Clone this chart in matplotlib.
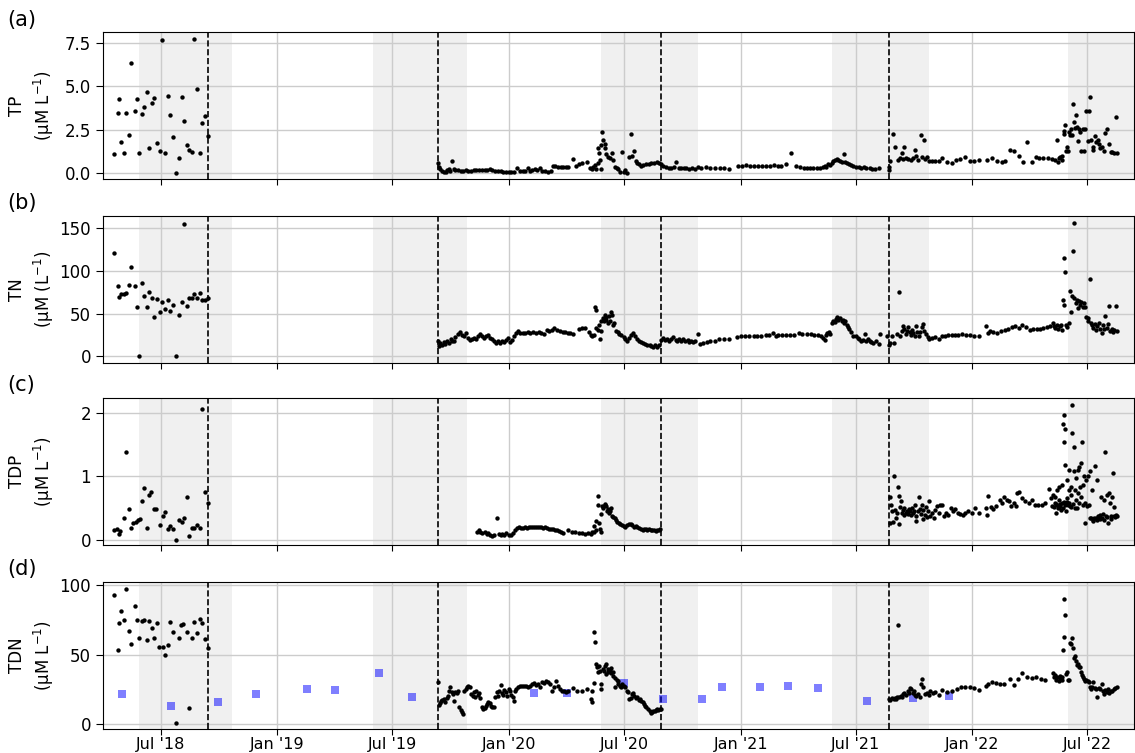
import pandas as pd
import matplotlib
matplotlib.use("Agg")
import matplotlib.pyplot as plt
import matplotlib.dates as mdates

start = pd.Timestamp("2018-01-01")

#****************************************************
# samples: (day since 1 Jan 2018, concentration)
#****************************************************
tp_pts = [
 (108,1.10),(113,3.48),(115,4.27),(119,1.78),(123,1.12),(127,3.44),(131,2.19),(135,6.34),(140,3.60),(143,4.24),
 (147,1.16),(152,3.40),(155,3.83),(159,4.66),(163,1.43),(167,4.02),(171,4.31),(175,1.70),(180,1.28),(183,7.68),
 (188,1.12),(193,4.45),(196,3.33),(200,2.09),(206,0.0),(210,0.87),(214,4.41),(218,2.98),(222,1.61),(226,1.30),
 (230,1.18),(234,7.76),(238,4.86),(243,1.12),(247,2.88),(251,3.29),(255,2.15),
 (619,0.58),(620,0.35),(622,0.21),(624,0.12),(628,0.04),(631,0.06),(633,0.14),(635,0.21),(638,0.10),(641,0.68),
 (643,0.21),(646,0.14),(650,0.17),(654,0.12),(658,0.12),(662,0.14),(666,0.12),(671,0.10),(675,0.14),(679,0.17),
 (683,0.15),(688,0.14),(692,0.17),(696,0.15),(700,0.19),(704,0.14),(709,0.10),(713,0.12),(717,0.08),(721,0.06),
 (725,0.04),(730,0.04),(734,0.04),(738,0.06),(743,0.27),(747,0.10),(752,0.12),(755,0.08),(760,0.25),(763,0.12),
 (767,0.15),(772,0.19),(775,0.14),(779,0.29),(783,0.10),(787,0.08),(792,0.06),(796,0.10),(799,0.39),(803,0.37),
 (807,0.35),(812,0.33),(816,0.33),(820,0.31),(824,0.35),(832,0.77),(836,0.37),(840,0.48),(845,0.56),(853,0.60),
 (858,0.29),(861,0.21),(863,0.33),(866,0.44),(867,0.19),(870,0.54),(871,1.41),(872,1.14),(874,0.73),(875,0.21),
 (876,1.61),(877,2.38),(879,1.90),(881,1.64),(882,1.41),(884,1.08),(886,0.93),(889,0.83),(893,1.16),(895,0.73),
 (897,0.35),(900,0.25),(903,0.19),(905,0.06),(908,1.22),(911,0.06),(913,0.14),(916,0.0),(919,0.89),(922,2.24),
 (925,0.97),(928,1.28),(931,0.68),(933,0.54),(936,0.48),(939,0.41),(942,0.44),(946,0.48),(951,0.50),(955,0.56),
 (959,0.58),(963,0.60),(967,0.54),(970,0.48),
 (974,0.37),(978,0.31),(982,0.29),(986,0.29),(990,0.31),(994,0.60),(998,0.29),(1002,0.27),(1006,0.25),(1010,0.25),
 (1015,0.23),(1019,0.25),(1023,0.23),(1028,0.35),(1033,0.27),(1041,0.33),(1048,0.25),(1056,0.25),(1063,0.25),
 (1070,0.25),(1077,0.21),(1092,0.37),(1098,0.41),(1104,0.43),(1110,0.41),(1117,0.37),(1123,0.37),(1129,0.39),
 (1136,0.41),(1142,0.37),(1148,0.44),(1155,0.41),(1160,0.41),(1167,0.48),(1175,1.16),(1183,0.41),(1189,0.33),
 (1195,0.29),(1200,0.27),(1205,0.25),(1210,0.25),(1216,0.27),(1221,0.29),(1225,0.33),(1228,0.41),(1231,0.35),
 (1234,0.48),(1237,0.44),(1239,0.56),(1242,0.68),(1245,0.75),(1247,0.77),(1250,0.73),(1252,0.68),(1255,0.64),
 (1258,1.08),(1260,0.64),(1263,0.58),(1266,0.48),(1269,0.44),(1273,0.39),(1278,0.35),(1282,0.33),(1286,0.29),
 (1290,0.33),(1294,0.29),(1299,0.29),(1303,0.23),(1308,0.21),(1314,0.25),(1329,0.31),(1330,0.17),
 (1332,0.70),(1336,2.22),(1339,1.49),(1344,0.75),(1347,0.87),(1350,1.12),(1352,0.79),(1353,1.47),(1357,0.87),
 (1360,0.77),(1364,0.73),(1367,0.83),(1371,1.32),(1373,0.97),(1376,0.73),(1380,2.19),(1382,0.93),(1385,1.88),
 (1387,0.77),(1390,0.89),(1393,0.70),(1398,0.68),(1402,0.68),(1408,0.68),(1414,0.83),(1421,0.64),(1429,0.56),
 (1435,0.72),(1442,0.77),(1450,0.89),(1457,0.70),(1464,0.68),(1471,0.73),(1484,0.73),(1492,0.87),(1500,0.68),
 (1508,0.64),(1513,0.68),(1521,1.33),(1527,1.24),(1534,0.97),(1541,0.64),(1548,1.76),(1555,0.64),(1561,0.89),
 (1567,0.87),(1573,0.85),(1580,0.83),(1586,0.77),(1592,0.73),(1594,1.90),(1596,0.64),(1598,0.83),(1600,0.93),
 (1602,0.75),(1603,0.99),(1605,2.24),(1606,2.42),(1607,2.77),(1609,1.26),(1610,1.51),(1612,1.26),(1614,2.34),
 (1615,2.19),(1617,2.51),(1619,2.19),(1620,4.00),(1621,2.92),(1623,2.57),(1624,3.35),(1626,2.65),(1627,1.86),
 (1629,2.53),(1631,2.38),(1633,1.28),(1635,2.51),(1637,1.28),(1639,2.53),(1641,3.58),(1643,1.84),(1645,3.58),
 (1647,4.39),(1649,1.90),(1651,1.49),(1652,1.30),(1654,2.15),(1656,1.80),(1659,1.90),(1661,1.68),(1663,1.41),
 (1666,1.49),(1668,1.26),(1671,2.30),(1674,2.53),(1677,1.66),(1680,1.22),(1682,1.18),(1685,1.16),(1687,3.21),
 (1690,1.12),
]

tn_pts = [
 (108,120.8),(113,82.6),(115,70.1),(119,72.9),(123,73.6),(127,74.4),(131,83.8),(135,105.2),(140,82.6),(143,57.7),
 (147,0.0),(152,86.1),(155,70.9),(159,58.4),(163,76.0),(167,68.2),(171,45.6),(175,67.4),(180,51.8),(183,64.3),
 (188,55.3),(193,65.8),(196,53.0),(200,60.0),(206,0.0),(210,48.3),(214,63.5),(218,154.7),(222,59.6),(226,68.6),
 (230,68.6),(234,73.2),(238,68.6),(243,74.8),(247,65.8),(251,66.6),(255,69.0),
 (619,17.5),(620,11.7),(622,15.6),(625,12.9),(628,16.8),(630,14.4),(633,18.3),(636,15.6),(639,20.3),(641,17.5),
 (644,18.3),(646,22.2),(650,26.1),(653,28.4),(656,25.3),(659,23.8),(662,26.9),(665,21.4),(669,19.5),(672,20.3),
 (675,21.4),(678,20.6),(681,23.4),(684,26.5),(688,23.8),(691,21.4),(694,23.4),(697,24.5),(700,21.4),(703,20.3),
 (706,18.3),(710,15.6),(713,17.5),(716,15.2),(719,18.3),(722,16.4),(725,19.1),(729,21.4),(732,16.8),(735,19.5),
 (738,23.4),(741,27.3),(744,29.2),(747,27.3),(752,27.7),(756,27.3),(760,28.1),(764,26.9),(769,28.4),(773,27.3),
 (777,28.4),(781,26.9),(785,26.1),(790,30.8),(794,29.2),(798,31.2),(802,33.1),(806,31.2),(811,30.0),(815,28.4),
 (819,28.1),(823,27.7),(827,27.3),(832,26.5),(840,32.3),(845,33.1),(850,33.1),(857,28.4),(860,25.3),(862,23.4),
 (864,24.5),(866,57.3),(867,54.2),(868,33.1),(870,31.2),(872,37.0),(874,20.3),(875,29.2),(876,40.9),(878,44.8),
 (880,41.7),(881,48.7),(883,45.6),(884,42.9),(886,39.0),(888,46.8),(889,40.9),(891,51.8),(893,48.7),(894,37.0),
 (896,39.0),(899,30.0),(902,28.1),(904,26.1),(907,24.5),(911,22.2),(914,20.3),(917,18.3),(920,21.4),(923,24.5),
 (926,27.3),(929,23.4),(933,20.6),(936,18.3),(939,16.4),(942,15.6),(945,14.4),(948,13.6),(952,12.9),(955,12.1),
 (958,11.3),(961,12.9),(964,10.9),(967,13.6),(970,19.5),(974,21.4),(977,19.5),(980,20.6),(983,18.3),(986,20.3),
 (989,22.2),(993,19.5),(996,17.5),(999,19.9),(1002,18.3),(1005,20.3),(1008,17.5),(1012,19.1),(1015,16.8),
 (1018,18.3),(1021,16.4),(1024,17.5),(1028,26.1),(1032,14.4),(1036,15.6),(1042,16.4),(1048,17.5),(1055,17.5),
 (1062,20.3),(1069,20.3),(1077,20.3),(1090,22.6),(1097,23.4),(1103,23.8),(1109,23.8),(1116,23.8),(1122,24.2),
 (1128,24.2),(1135,24.5),(1141,25.3),(1146,27.3),(1152,24.2),(1155,24.5),(1161,24.5),(1167,24.5),(1174,25.3),
 (1180,25.3),(1187,26.9),(1193,26.1),(1200,26.1),(1206,26.1),(1212,25.3),(1218,24.5),(1223,23.4),(1226,21.4),
 (1229,19.5),(1230,25.3),(1232,27.3),(1235,28.4),(1237,26.1),(1240,39.0),(1242,41.7),(1244,40.1),(1246,43.6),
 (1248,45.6),(1250,42.9),(1252,44.8),(1255,40.9),(1257,42.5),(1259,39.0),(1261,40.9),(1263,37.0),(1265,34.7),
 (1267,31.6),(1270,28.4),(1273,24.2),(1277,23.4),(1280,21.4),(1283,20.3),(1286,18.3),(1289,19.5),(1292,26.1),
 (1294,17.5),(1297,20.6),(1300,18.3),(1302,16.8),(1305,15.6),(1309,17.5),(1314,14.8),(1316,26.5),(1327,23.4),
 (1329,13.6),
 (1332,15.6),(1334,23.4),(1338,15.6),(1342,26.1),(1345,75.2),(1347,23.4),(1350,29.2),(1351,35.1),(1353,32.3),
 (1356,26.1),(1358,30.0),(1360,34.3),(1362,28.4),(1364,25.3),(1366,31.2),(1368,27.3),(1370,23.4),(1372,35.1),
 (1374,28.4),(1377,24.2),(1379,28.1),(1381,33.9),(1383,37.8),(1385,29.2),(1388,26.1),(1391,22.2),(1393,20.6),
 (1397,21.4),(1402,22.2),(1408,20.3),(1413,23.4),(1418,23.8),(1423,24.5),(1429,24.5),(1434,25.3),(1439,25.3),
 (1444,26.1),(1451,25.3),(1458,24.5),(1464,24.2),(1471,24.2),(1483,35.1),(1485,27.3),(1489,30.0),(1494,28.4),
 (1500,27.3),(1506,29.2),(1512,31.2),(1518,32.3),(1523,33.9),(1529,35.1),(1534,33.1),(1540,37.0),(1546,34.3),
 (1552,31.2),(1557,31.9),(1563,32.3),(1568,32.3),(1573,33.1),(1579,33.9),(1584,35.1),(1588,39.0),(1590,35.1),
 (1592,33.1),(1594,36.2),(1596,32.3),(1599,35.1),(1601,37.0),(1602,31.2),(1604,65.8),(1605,60.4),(1606,114.9),
 (1608,98.6),(1609,37.0),(1611,33.9),(1613,39.0),(1615,76.7),(1617,52.6),(1619,71.3),(1620,123.5),(1621,156.6),
 (1622,69.0),(1624,62.3),(1626,66.2),(1627,56.5),(1629,65.1),(1631,60.4),(1633,63.5),(1635,57.3),(1637,62.3),
 (1639,58.0),(1641,45.6),(1643,44.8),(1644,40.9),(1646,90.8),(1648,39.0),(1650,36.2),(1652,33.1),(1654,37.8),
 (1656,31.2),(1658,35.1),(1661,39.0),(1663,32.3),(1665,27.3),(1667,37.0),(1669,32.3),(1671,47.9),(1673,33.1),
 (1675,37.8),(1677,59.6),(1678,29.2),(1681,32.3),(1683,28.4),(1685,31.2),(1687,59.6),(1689,30.0),
]

tdp_pts = [
 (108,0.15),(112,0.17),(115,0.09),(117,0.14),(123,0.34),(127,1.39),(131,0.49),(135,0.19),(138,0.26),(142,0.29),
 (145,0.32),(148,0.33),(152,0.62),(155,0.82),(159,0.19),(163,0.71),(166,0.75),(170,0.49),(174,0.49),(180,0.24),
 (184,0.38),(188,0.44),(192,0.17),(196,0.22),(200,0.17),(206,0.0),(210,0.32),(214,0.28),(218,0.34),(222,0.67),
 (226,0.07),(230,0.19),(234,0.19),(238,0.24),(243,0.19),(247,2.06),(251,0.75),(255,0.59),
 (680,0.13),(683,0.15),(685,0.12),(688,0.11),(692,0.12),(695,0.09),(698,0.11),(701,0.08),(704,0.07),(707,0.08),
 (711,0.35),(714,0.09),(717,0.08),(720,0.09),(723,0.08),(726,0.11),(730,0.08),(733,0.08),(736,0.11),(740,0.16),
 (743,0.19),(746,0.20),(750,0.19),(753,0.19),(756,0.20),(759,0.19),(762,0.20),(765,0.21),(769,0.21),(772,0.21),
 (775,0.21),(778,0.21),(781,0.21),(784,0.19),(787,0.21),(791,0.19),(794,0.17),(797,0.17),(800,0.18),(803,0.16),
 (806,0.15),(810,0.14),(813,0.13),(816,0.11),(824,0.16),(829,0.13),(834,0.12),(840,0.11),(845,0.11),(850,0.09),
 (855,0.11),(859,0.09),(862,0.12),(864,0.13),(865,0.22),(867,0.16),(868,0.30),(870,0.69),(871,0.55),(873,0.26),
 (874,0.18),(875,0.12),(876,0.41),(877,0.53),(878,0.50),(881,0.55),(882,0.57),(884,0.53),(885,0.46),(887,0.48),
 (888,0.42),(890,0.45),(892,0.50),(893,0.38),(895,0.36),(897,0.34),(899,0.31),(901,0.29),(904,0.27),(906,0.25),
 (909,0.24),(912,0.22),(914,0.21),(917,0.24),(919,0.25),(922,0.25),(925,0.23),(927,0.21),(930,0.22),(933,0.20),
 (935,0.19),(938,0.18),(941,0.16),(943,0.18),(946,0.17),(948,0.16),(951,0.17),(954,0.16),(956,0.15),(959,0.16),
 (962,0.14),(964,0.15),(967,0.15),(969,0.17),
 (1331,0.26),(1332,0.67),(1333,0.55),(1334,0.45),(1336,0.29),(1338,1.01),(1339,0.47),(1340,0.34),(1342,0.42),
 (1344,0.83),(1345,0.69),(1346,0.25),(1347,0.52),(1348,0.61),(1350,0.43),(1351,0.47),(1353,0.39),(1354,0.50),
 (1356,0.43),(1358,0.46),(1359,0.41),(1361,0.48),(1362,0.45),(1364,0.39),(1366,0.50),(1367,0.42),(1369,0.46),
 (1370,0.55),(1372,0.38),(1373,0.30),(1375,0.45),(1377,0.67),(1378,0.48),(1380,0.41),(1381,0.55),(1383,0.33),
 (1384,0.47),(1386,0.39),(1388,0.52),(1389,0.36),(1391,0.45),(1393,0.61),(1395,0.38),(1397,0.42),(1400,0.34),
 (1402,0.47),(1405,0.53),(1408,0.42),(1410,0.55),(1413,0.55),(1417,0.38),(1420,0.42),(1423,0.39),(1427,0.50),
 (1430,0.45),(1434,0.48),(1438,0.43),(1442,0.41),(1446,0.39),(1450,0.42),(1455,0.45),(1461,0.42),(1466,0.50),
 (1471,0.43),(1483,0.50),(1484,0.39),(1485,0.69),(1490,0.52),(1494,0.48),(1499,0.53),(1504,0.63),(1508,0.58),
 (1511,0.67),(1515,0.63),(1519,0.61),(1522,0.53),(1526,0.58),(1530,0.53),(1532,0.74),(1535,0.76),(1540,0.66),
 (1544,0.62),(1550,0.59),(1555,0.63),(1560,0.55),(1565,0.55),(1571,0.55),(1576,0.58),(1582,0.80),(1585,0.66),
 (1587,0.53),(1589,0.71),(1590,0.52),(1591,0.59),(1592,0.68),(1593,0.43),(1593,0.56),(1594,0.55),(1595,0.79),
 (1596,0.50),(1597,0.63),(1597,0.52),(1598,0.83),(1599,0.53),(1600,0.57),(1601,0.47),(1602,0.59),(1603,0.87),
 (1604,1.82),(1604,0.50),(1605,1.97),(1606,1.55),(1606,0.60),(1607,1.75),(1608,1.18),(1608,0.55),(1609,0.46),
 (1610,0.66),(1611,0.95),(1611,0.60),(1612,0.55),(1613,0.79),(1614,1.11),(1614,0.58),(1615,0.53),(1616,0.71),
 (1617,0.84),(1617,0.52),(1618,2.13),(1619,1.68),(1620,0.56),(1621,1.47),(1622,1.08),(1623,0.79),(1623,0.50),
 (1624,0.63),(1625,0.97),(1626,0.50),(1627,1.11),(1628,0.74),(1629,1.15),(1630,0.58),(1631,0.84),(1632,1.22),
 (1633,0.68),(1634,1.54),(1635,0.55),(1636,0.87),(1637,1.01),(1638,0.58),(1639,0.27),(1640,0.94),(1642,0.53),
 (1643,1.00),(1645,0.55),(1646,0.35),(1647,1.09),(1648,0.34),(1650,0.79),(1651,0.30),(1652,0.32),(1653,0.34),
 (1655,1.17),(1656,0.34),(1657,0.31),(1658,0.95),(1659,0.38),(1661,0.34),(1662,0.33),(1663,0.39),(1664,0.67),
 (1666,0.34),(1667,0.41),(1668,0.32),(1669,0.63),(1670,1.39),(1672,0.38),(1673,0.36),(1674,0.71),(1675,0.27),
 (1677,0.74),(1678,0.58),(1679,0.33),(1680,0.37),(1682,0.67),(1683,1.05),(1684,0.38),(1685,0.52),(1686,0.36),
 (1687,0.39),(1689,0.38),
]

tdn_pts = [
 (108,92.6),(113,53.6),(115,73.0),(119,81.3),(123,74.6),(127,97.1),(131,67.0),(135,57.9),(140,84.7),(143,74.6),
 (147,61.7),(151,74.2),(155,75.1),(159,60.3),(163,74.2),(167,69.4),(171,62.2),(175,72.5),(178,55.5),(184,55.5),
 (188,49.8),(192,56.7),(196,73.7),(200,66.5),(206,0.7),(210,61.7),(213,71.0),(217,72.2),(222,66.5),(226,11.2),
 (231,62.2),(234,73.4),(238,65.3),(243,75.3),(246,73.0),(251,61.5),(255,54.5),
 (619,29.9),(620,13.9),(621,14.8),(623,16.7),(625,17.2),(628,17.9),(630,16.0),(632,18.7),(634,20.3),(636,23.4),
 (638,26.3),(640,22.7),(642,21.5),(644,16.7),(645,22.7),(648,22.0),(650,23.9),(652,12.0),(654,10.0),(656,8.4),
 (658,7.2),(660,23.4),(662,25.1),(664,26.8),(666,27.5),(669,26.3),(671,21.5),(673,20.3),(675,22.7),(677,19.6),
 (679,23.9),(681,21.0),(683,22.0),(685,18.7),(688,12.4),(690,10.8),(692,11.5),(694,13.2),(696,14.4),(698,15.5),
 (700,14.8),(702,13.2),(704,12.0),(706,12.4),(709,19.6),(711,22.7),(713,20.3),(715,23.9),(717,28.2),(719,22.0),
 (721,21.0),(723,24.4),(725,22.7),(727,20.3),(730,25.1),(732,23.9),(734,21.0),(736,19.1),(738,16.3),(740,23.9),
 (742,25.1),(745,26.3),(747,27.5),(751,27.3),(754,27.5),(757,27.3),(760,26.8),(763,27.5),(766,28.7),(770,29.2),
 (773,28.2),(776,28.7),(779,26.8),(782,29.9),(785,29.2),(788,31.1),(792,29.9),(795,28.7),(798,23.4),(801,26.3),
 (804,30.6),(807,27.5),(811,25.1),(814,23.9),(817,23.4),(820,22.7),(824,23.4),(831,25.8),(837,23.9),(845,23.4),
 (853,25.1),(860,17.9),(861,15.5),(862,23.9),(864,29.2),(865,66.5),(866,59.3),(868,43.1),(869,40.7),(871,37.1),
 (872,41.9),(874,38.3),(875,28.7),(876,25.1),(878,39.5),(880,38.3),(881,41.9),(883,43.1),(884,35.9),(886,39.5),
 (887,37.1),(889,38.8),(891,36.4),(892,40.2),(894,34.7),(895,37.1),(897,33.0),(898,26.3),(900,31.6),(902,30.6),
 (903,28.7),(905,27.5),(907,26.8),(909,28.7),(912,27.5),(914,26.3),(916,23.9),(918,22.7),(920,17.9),(922,18.7),
 (924,21.5),(926,22.0),(928,20.3),(931,18.7),(933,19.6),(935,17.2),(937,17.9),(939,16.3),(941,15.5),(943,14.4),
 (945,13.2),(947,12.4),(949,10.8),(952,9.1),(954,7.7),(956,8.4),(958,9.6),(960,9.1),(962,10.0),(964,10.8),
 (966,10.0),(968,10.8),(970,10.5),
 (1330,17.9),(1332,17.2),(1334,18.7),(1337,17.9),(1339,18.7),(1341,17.9),(1343,19.6),(1344,71.0),(1346,19.1),
 (1348,20.3),(1350,19.6),(1352,21.5),(1354,22.0),(1357,21.0),(1359,23.4),(1361,22.0),(1363,25.8),(1365,25.1),
 (1367,22.0),(1369,23.9),(1371,21.0),(1373,20.3),(1376,21.5),(1378,19.6),(1380,28.7),(1382,32.3),(1384,26.8),
 (1387,21.5),(1389,22.0),(1392,21.0),(1395,23.4),(1399,22.0),(1402,22.7),(1408,21.0),(1414,24.4),(1421,22.7),
 (1429,23.9),(1437,25.1),(1443,26.8),(1450,26.3),(1457,26.3),(1464,25.8),(1471,24.4),(1483,27.5),(1485,28.7),
 (1492,29.9),(1499,29.2),(1505,28.7),(1511,28.7),(1520,32.3),(1527,28.2),(1533,32.3),(1540,36.8),(1547,33.5),
 (1555,33.0),(1562,33.5),(1569,32.3),(1576,31.6),(1588,36.4),(1590,33.5),(1592,35.4),(1593,31.6),(1595,33.5),
 (1597,31.1),(1599,34.7),(1600,32.1),(1602,33.5),(1603,31.6),(1604,53.6),(1605,62.7),(1606,89.7),(1607,78.5),
 (1609,35.9),(1610,37.1),(1612,31.6),(1614,31.6),(1615,58.6),(1617,57.4),(1619,61.7),(1620,55.0),(1622,47.8),
 (1623,49.0),(1625,45.0),(1626,42.6),(1628,43.5),(1630,41.1),(1631,41.1),(1633,37.1),(1634,35.4),(1636,33.5),
 (1637,32.3),(1639,31.1),(1641,31.6),(1643,31.1),(1645,29.9),(1647,26.3),(1649,25.1),(1650,26.3),(1652,29.9),
 (1654,25.8),(1656,25.1),(1658,19.6),(1661,25.8),(1663,25.1),(1665,28.7),(1667,23.4),(1669,21.5),(1671,24.4),
 (1673,22.7),(1675,25.1),(1677,22.0),(1680,23.9),(1682,23.4),(1684,25.1),(1686,25.8),(1689,26.8),
]

# monthly TDN (other source)
tdn_monthly = [
 (120,21.5),(198,12.7),(271,15.5),(331,21.5),(412,24.9),(456,24.2),(525,36.8),(578,19.1),(770,22.2),(822,22.2),
 (912,29.7),(973,17.7),(1034,17.7),(1066,26.8),(1126,26.8),(1170,27.5),(1217,26.1),(1295,16.3),(1368,18.9),
 (1424,20.3),
]

seasons = [("2018-05-28", "2018-10-21"), ("2019-06-01", "2019-10-27"), ("2020-05-26", "2020-10-26"),
           ("2021-05-24", "2021-10-24"), ("2022-06-01", "2022-12-31")]
breaks = ["2018-09-13", "2019-09-11", "2020-08-28", "2021-08-23"]

labels = ["TP\n(μM L$^{-1}$)", "TN\n(μM (L$^{-1}$)", "TDP\n(μM L$^{-1}$)", "TDN\n(μM L$^{-1}$)"]
letters = ["(a)", "(b)", "(c)", "(d)"]
yticks = [[0, 2.5, 5.0, 7.5], [0, 50, 100, 150], [0, 1, 2], [0, 50, 100]]
ylims = [(-0.38, 8.14), (-7.8, 164.8), (-0.08, 2.24), (-3.6, 102.4)]


def to_xy(pts):
    d, v = zip(*pts)
    return start + pd.to_timedelta(list(d), unit="D"), list(v)


fig = plt.figure(figsize=(11.35, 7.53), dpi=100)
bottoms = [0.7619, 0.5179, 0.2762, 0.0319]
axes = []
for i, b in enumerate(bottoms):
    ax = fig.add_axes([0.0907, b, 0.9084, 0.1955], sharex=axes[0] if axes else None)
    axes.append(ax)

series = [tp_pts, tn_pts, tdp_pts, tdn_pts]
for i, ax in enumerate(axes):
    ax.set_axisbelow(True)
    ax.grid(True, color="#cccccc", linewidth=1.0)
    for s0, s1 in seasons:
        ax.axvspan(pd.Timestamp(s0), pd.Timestamp(s1), color="#f0f0f0", zorder=0, lw=0)
    for bk in breaks:
        ax.axvline(pd.Timestamp(bk), color="black", ls="--", lw=1.2, zorder=3)
    if i == 3:
        xb, yb = to_xy(tdn_monthly)
        ax.scatter(xb, yb, marker="s", s=34, color="blue", alpha=0.5, lw=0, zorder=4)
    x, y = to_xy(series[i])
    ax.scatter(x, y, s=10, color="black", lw=0, zorder=5)
    ax.set_ylim(*ylims[i])
    ax.set_yticks(yticks[i])
    if i == 0:
        ax.set_yticklabels(["0.0", "2.5", "5.0", "7.5"])
    ax.set_ylabel(labels[i], fontsize=12, linespacing=1.3)
    ax.yaxis.set_label_coords(-0.046, 0.5)
    ax.tick_params(axis="y", labelsize=12, length=5)
    ax.tick_params(axis="x", labelsize=11.5, length=4, pad=2)
    ax.text(-0.093, 1.085, letters[i], transform=ax.transAxes, fontsize=15, va="center", ha="left")
    if i < 3:
        ax.tick_params(labelbottom=False)

axes[0].set_xlim(pd.Timestamp("2018-04-01"), pd.Timestamp("2022-09-13"))
axes[3].xaxis.set_major_locator(mdates.MonthLocator(bymonth=[1, 7]))
axes[3].xaxis.set_major_formatter(mdates.DateFormatter("%b '%y"))

fig.savefig("out.png", dpi=100)
